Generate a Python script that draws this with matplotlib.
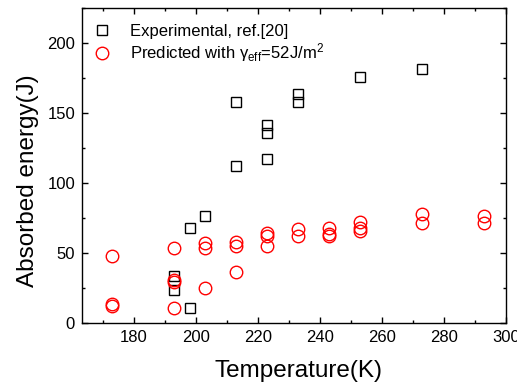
import matplotlib
matplotlib.use('Agg')
import matplotlib.pyplot as plt
from matplotlib.ticker import MultipleLocator

plt.rcParams['font.family'] = ['Liberation Sans', 'DejaVu Sans']
plt.rcParams['mathtext.fontset'] = 'custom'
plt.rcParams['mathtext.rm'] = 'Liberation Sans'
plt.rcParams['mathtext.it'] = 'Liberation Sans:italic'

# experimental data (black squares)
exp_T = [193, 193, 198, 198, 203, 213, 213, 223, 223, 223, 233, 233, 253, 273]
exp_E = [33.7, 23.4, 10.8, 68, 76.4, 112.2, 157.6, 141.5, 135.7, 117, 163.6, 157.6, 175.8, 181.5]

# predicted data (red circles)
pred_T = [173, 173, 173, 193, 193, 193, 193, 203, 203, 203, 213, 213, 213,
          223, 223, 223, 233, 233, 243, 243, 243, 253, 253, 253, 273, 273, 293, 293]
pred_E = [48, 13.2, 12, 53.7, 30.6, 29, 10.8, 56.9, 53.7, 25, 57.6, 54.9, 36.5,
          64, 62, 55, 66.9, 61.7, 67.6, 63.5, 62, 71.9, 67.6, 65.7, 77.5, 71.6, 76.4, 71.6]

fig = plt.figure(figsize=(5.17, 3.88), dpi=100)
ax = fig.add_axes([0.1586, 0.1683, 0.82, 0.8107])

ax.plot(exp_T, exp_E, linestyle='none', marker='s', markersize=7.7,
        markerfacecolor='none', markeredgecolor='black', markeredgewidth=1.0,
        label='Experimental, ref.[20]')
ax.plot(pred_T, pred_E, linestyle='none', marker='o', markersize=9,
        markerfacecolor='none', markeredgecolor='red', markeredgewidth=1.0,
        label='Predicted with γ$_{\\rm eff}$=52J/m$^2$')

ax.set_xlim(163.3, 300)
ax.set_ylim(0, 225)
ax.xaxis.set_major_locator(MultipleLocator(20))
ax.xaxis.set_minor_locator(MultipleLocator(10))
ax.yaxis.set_major_locator(MultipleLocator(50))
ax.yaxis.set_minor_locator(MultipleLocator(25))
ax.tick_params(which='both', direction='in', top=True, right=True,
               labelsize=12, pad=5, width=1.0)
ax.tick_params(which='major', length=4.3)
ax.tick_params(which='minor', length=2.2)
for s in ax.spines.values():
    s.set_linewidth(1.0)

ax.set_xlabel('Temperature(K)', fontsize=17.5)
ax.set_ylabel('Absorbed energy(J)', fontsize=17.5)
ax.xaxis.set_label_coords(0.51, -0.12)
ax.yaxis.set_label_coords(-0.102, 0.45)

ax.legend(loc='upper left', bbox_to_anchor=(0.011, 0.971), borderaxespad=0,
          frameon=False, fontsize=12, handlelength=1.0, handletextpad=1.2,
          labelspacing=0.15)

fig.savefig('out.png', dpi=100)
